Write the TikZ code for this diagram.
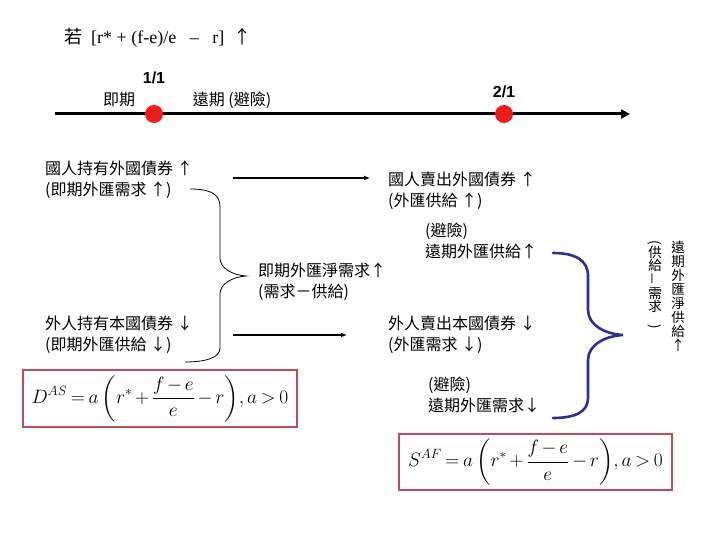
\documentclass[tikz,border=0pt]{standalone}
\usepackage{fontspec}
\usepackage{graphicx}
\usepackage{amsmath}
\setmainfont{Liberation Serif}
\setsansfont{Liberation Sans}
\newfontfamily\cjk{Noto Sans CJK TC}
\usepackage{tikz}
\usetikzlibrary{arrows.meta, positioning, calc}
\definecolor{boxred}{HTML}{BE4B55}
\definecolor{bracenavy}{HTML}{2E3192}
\definecolor{dotred}{HTML}{EE1C1C}

\newcommand{\afeq}[1]{\scalebox{1.12}{\medmuskip=2.5mu\thickmuskip=3.5mu
  $\displaystyle #1=a\left(r^{*}+\frac{f-e}{e}-r\right)\!,a>0$}}

\tikzset{
  txt/.style={anchor=north west, inner sep=0pt, align=left,
              font=\cjk\fontsize{16}{20.5}\selectfont},
  vcol/.style={anchor=north, inner sep=0pt, align=center},
  tick/.style={inner sep=0pt, font=\sffamily\bfseries\fontsize{16}{18}\selectfont},
  dot/.style={circle, fill=dotred, inner sep=0pt, minimum size=18pt},
  eqbox/.style={draw=boxred, line width=1.4pt, inner sep=0pt,
                font=\fontsize{17}{20}\selectfont},
  flow/.style={line width=2pt, -{Latex[length=6pt,width=5pt]}},
  bracethin/.style={line width=0.8pt},
  bracethick/.style={line width=2.6pt, color=bracenavy, line cap=round}
}

\begin{document}
\begin{tikzpicture}[x=1pt, y=-1pt]
  \useasboundingbox[fill=white] (0,0) rectangle (720,540);

  % condition
  \node[anchor=west, inner sep=0pt, font=\fontsize{18}{20}\selectfont] (cond) at (64,38)
    {{\cjk 若}\ \ [r* + (f-e)/e \ \ – \ \ r]\ \ {\cjk ↑}};

  % time line
  \coordinate (t0) at (55,114);
  \coordinate (t1) at (630,114);
  \draw[line width=3pt, -{Triangle[length=9pt,width=9pt]}] (t0) -- (t1);
  \node[dot] (spot) at (154,114) {};
  \node[dot] (fwd) at (504,114) {};
  \node[tick] (spotlbl) at (154,78) {1/1};
  \node[tick] (fwdlbl) at (504,92) {2/1};
  \node[txt, anchor=center] (spotname) at (119,100) {即期};
  \node[txt, anchor=center] (fwdname) at (232,100) {遠期 (避險)};

  % bonds
  \node[txt] (homeHold) at (45,161) {國人持有外國債券 ↑\\(即期外匯需求 ↑)};
  \node[txt] (homeSell) at (388,172) {國人賣出外國債券 ↑\\(外匯供給 ↑)};
  \node[txt] (fwdSupply) at (425,223) {(避險)\\遠期外匯供給↑};
  \node[txt] (spotNet) at (258,263) {即期外匯淨需求↑\\(需求－供給)};
  \node[txt] (forHold) at (45,316) {外人持有本國債券 ↓\\(即期外匯供給 ↓)};
  \node[txt] (forSell) at (388,316) {外人賣出本國債券 ↓\\(外匯需求 ↓)};
  \node[txt] (fwdDemand) at (428,377) {(避險)\\遠期外匯需求↓};

  \coordinate (a1s) at (233,178);
  \coordinate (a1e) at (370,178);
  \coordinate (a2s) at (233,335);
  \coordinate (a2e) at (347,335);
  \draw[flow] (a1s) -- (a1e);
  \draw[flow] (a2s) -- (a2e);

  % brace into spot net demand
  \coordinate (lb1) at (190,189);
  \coordinate (lbtip) at (246,276);
  \coordinate (lb2) at (185,362);
  \draw[bracethin] (lb1) .. controls (212,189) and (220,195) .. (220,207)
    -- (220,258) .. controls (220,268) and (232,275) .. (lbtip)
    .. controls (232,277) and (220,284) .. (220,294)
    -- (220,348) .. controls (220,358) and (205,362) .. (lb2);

  % brace into forward net supply
  \coordinate (rb1) at (553,253);
  \coordinate (rbtip) at (623,335);
  \coordinate (rb2) at (553,418);
  \draw[bracethick] (rb1) .. controls (575,253) and (588,260) .. (588,276)
    -- (588,310) .. controls (588,325) and (605,334) .. (rbtip)
    .. controls (605,336) and (588,345) .. (588,360)
    -- (588,398) .. controls (588,412) and (575,418) .. (rb2);

  \node[vcol, font=\cjk\fontsize{13.5}{14}\selectfont] (fwdNet) at (678,241)
    {遠\\期\\外\\匯\\淨\\供\\給\\↑};
  \node[vcol, font=\cjk\fontsize{13.5}{13}\selectfont] (fwdNetSub) at (655,240)
    {\rotatebox{-90}{(}\\供\\給\\\rotatebox{90}{－}\\需\\求\\\rotatebox{-90}{)}};

  % formulas
  \node[eqbox, minimum width=274pt, minimum height=57pt] (eqD) at (160,398.5)
    {\afeq{D^{AS}}};
  \node[eqbox, minimum width=273pt, minimum height=56pt] (eqS) at (535.5,462)
    {\afeq{S^{AF}}};
\end{tikzpicture}
\end{document}
